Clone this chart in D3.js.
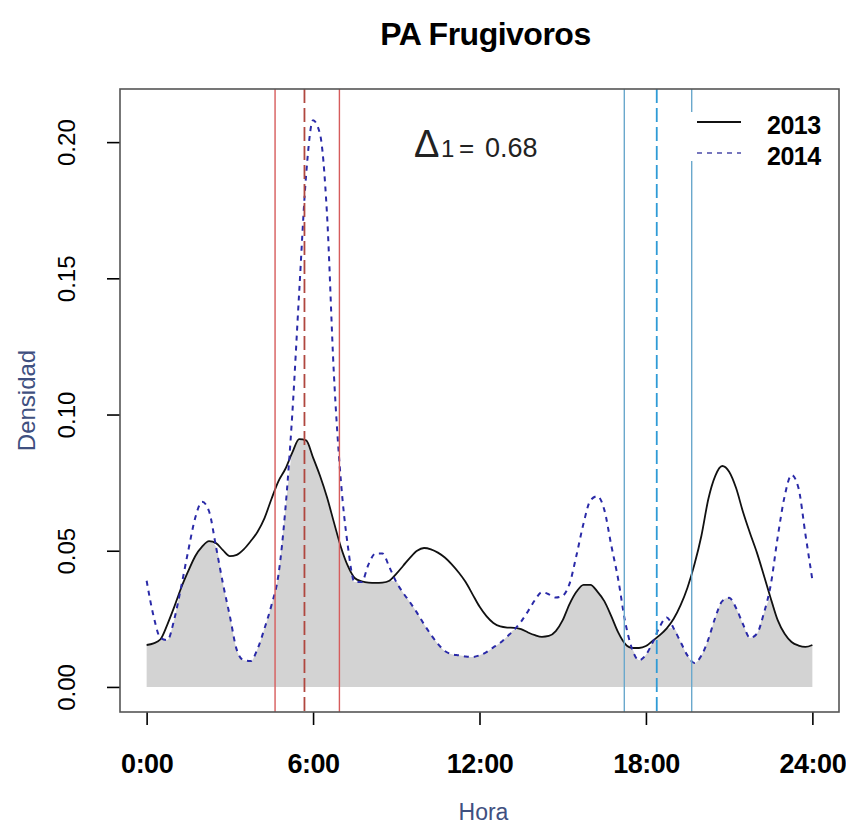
<!DOCTYPE html>
<html>
<head>
<meta charset="utf-8">
<script src="https://cdn.jsdelivr.net/npm/d3@7"></script>
<style>
  html, body { margin: 0; padding: 0; background: #fff; }
  svg { display: block; font-family: "Liberation Sans", Arial, sans-serif; }
</style>
</head>
<body>
<svg id="chart" width="846" height="828"></svg>
<script>
// Kernel density of activity by hour, sampled every 15 minutes (0:00 .. 24:00)
const hours = d3.range(0, 97).map(i => i * 0.25);

const dens2013 = [
  0.0154, 0.0160, 0.0175, 0.0230, 0.0295, 0.0365, 0.0425, 0.0480,
  0.0515, 0.0535, 0.0528, 0.0502, 0.0480, 0.0485, 0.0505, 0.0535,
  0.0570, 0.0620, 0.0690, 0.0755, 0.0800, 0.0860, 0.0910, 0.0905,
  0.0842, 0.0775, 0.0697, 0.0605, 0.0515, 0.0445, 0.0400, 0.0388,
  0.0383, 0.0382, 0.0383, 0.0390, 0.0415, 0.0445, 0.0475, 0.0500,
  0.0510, 0.0505, 0.0493, 0.0475, 0.0450, 0.0420, 0.0385, 0.0340,
  0.0295, 0.0260, 0.0235, 0.0222, 0.0218, 0.0217, 0.0212, 0.0200,
  0.0190, 0.0184, 0.0187, 0.0205, 0.0245, 0.0305, 0.0350, 0.0375,
  0.0375, 0.0350, 0.0315, 0.0260, 0.0200, 0.0158, 0.0143, 0.0143,
  0.0150, 0.0170, 0.0190, 0.0215, 0.0250, 0.0300, 0.0365, 0.0450,
  0.0555, 0.0690, 0.0775, 0.0811, 0.0790, 0.0730, 0.0642, 0.0565,
  0.0493, 0.0410, 0.0325, 0.0245, 0.0195, 0.0165, 0.0152, 0.0147,
  0.0154
];

const dens2014 = [
  0.0390, 0.0260, 0.0180, 0.0172, 0.0250, 0.0370, 0.0500, 0.0620,
  0.0680, 0.0645, 0.0515, 0.0380, 0.0260, 0.0136, 0.0098, 0.0095,
  0.0140, 0.0215, 0.0300, 0.0410, 0.0650, 0.1000, 0.1450, 0.1880,
  0.2080, 0.2030, 0.1740, 0.1150, 0.0760, 0.0520, 0.0385, 0.0385,
  0.0450, 0.0490, 0.0490, 0.0440, 0.0385, 0.0345, 0.0310, 0.0272,
  0.0230, 0.0192, 0.0158, 0.0132, 0.0120, 0.0116, 0.0112, 0.0110,
  0.0116, 0.0128, 0.0145, 0.0162, 0.0185, 0.0210, 0.0240, 0.0278,
  0.0319, 0.0348, 0.0340, 0.0328, 0.0335, 0.0380, 0.0485, 0.0600,
  0.0685, 0.0700, 0.0650, 0.0520, 0.0395, 0.0240, 0.0140, 0.0098,
  0.0118, 0.0165, 0.0222, 0.0255, 0.0215, 0.0165, 0.0115, 0.0088,
  0.0115, 0.0175, 0.0255, 0.0315, 0.0327, 0.0290, 0.0230, 0.0180,
  0.0195, 0.0270, 0.0375, 0.0550, 0.0700, 0.0778, 0.0730, 0.0560,
  0.0393
];

const seriesNames = ["2013", "2014"];
const overlapLabel = { symbol: "Δ", sub: "1", value: "0.68" };

// Sunrise and sunset: earliest, mean, latest (hours)
const sunrise = [4.63, 5.69, 6.95];
const sunset = [17.22, 18.39, 19.65];

const xTickValues = [0, 6, 12, 18, 24];
const xTickLabels = ["0:00", "6:00", "12:00", "18:00", "24:00"];
const yTickValues = [0, 0.05, 0.10, 0.15, 0.20];

const svg = d3.select("#chart");
const W = 846, H = 828;
const box = { left: 120, right: 839, top: 89, bottom: 712 };

svg.append("rect").attr("width", W).attr("height", H).attr("fill", "#fff");

const x = d3.scaleLinear().domain([-0.96, 24.96]).range([box.left, box.right]);
const y = d3.scaleLinear().domain([-0.0092, 0.2195]).range([box.bottom, box.top]);

const rows = hours.map((h, i) => ({ h, a: dens2013[i], b: dens2014[i] }));

// overlap region: the lower of the two densities at each hour
const overlapArea = d3.area()
  .x(d => x(d.h))
  .y0(y(0))
  .y1(d => y(Math.min(d.a, d.b)))
  .curve(d3.curveMonotoneX);

svg.append("path")
  .datum(rows)
  .attr("d", overlapArea)
  .attr("fill", "#d3d3d3");

const line = key => d3.line()
  .x(d => x(d.h))
  .y(d => y(d[key]))
  .curve(d3.curveMonotoneX);

svg.append("path")
  .datum(rows)
  .attr("d", line("a"))
  .attr("fill", "none")
  .attr("stroke", "#111")
  .attr("stroke-width", 1.8);

svg.append("path")
  .datum(rows)
  .attr("d", line("b"))
  .attr("fill", "none")
  .attr("stroke", "#2a2aa8")
  .attr("stroke-width", 2)
  .attr("stroke-dasharray", "5,5");

// reference lines for sunrise and sunset
function refLines(values, outerColor, midColor) {
  values.forEach((v, i) => {
    const mid = i === 1;
    svg.append("line")
      .attr("x1", x(v)).attr("x2", x(v))
      .attr("y1", box.top).attr("y2", box.bottom)
      .attr("stroke", mid ? midColor : outerColor)
      .attr("stroke-width", mid ? 1.8 : 1.4)
      .attr("stroke-dasharray", mid ? "14,5" : null);
  });
}
refLines(sunrise, "#d65c5c", "#b0473f");
refLines(sunset, "#6aa8cc", "#2f9bd6");

// axes
const xAxis = svg.append("g")
  .attr("transform", `translate(0,${box.bottom})`)
  .call(d3.axisBottom(x)
    .tickValues(xTickValues)
    .tickFormat((d, i) => xTickLabels[i])
    .tickSize(13)
    .tickPadding(29));
xAxis.select(".domain").remove();
xAxis.selectAll("line").attr("stroke", "#000").attr("stroke-width", 1.6);
xAxis.selectAll("text")
  .attr("fill", "#000")
  .attr("font-size", 27)
  .attr("font-weight", "bold")
  .attr("letter-spacing", -0.5)
  .attr("font-family", "'Liberation Sans', Arial, sans-serif");

const yAxis = svg.append("g")
  .attr("transform", `translate(${box.left},0)`)
  .call(d3.axisLeft(y)
    .tickValues(yTickValues)
    .tickFormat(d3.format(".2f"))
    .tickSize(13));
yAxis.select(".domain").remove();
yAxis.selectAll("line").attr("stroke", "#000").attr("stroke-width", 1.6);
yAxis.selectAll("text")
  .attr("x", null).attr("dy", null)
  .attr("transform", "translate(-45,0) rotate(-90)")
  .attr("text-anchor", "middle")
  .attr("fill", "#000")
  .attr("font-size", 24)
  .attr("font-family", "'Liberation Sans', Arial, sans-serif");

// plot frame
svg.append("rect")
  .attr("x", box.left).attr("y", box.top)
  .attr("width", box.right - box.left).attr("height", box.bottom - box.top)
  .attr("fill", "none")
  .attr("stroke", "#555")
  .attr("stroke-width", 1.6);

// title and axis titles
svg.append("text")
  .attr("x", (box.left + box.right) / 2 + 6).attr("y", 45)
  .attr("text-anchor", "middle")
  .attr("font-size", 32).attr("font-weight", "bold")
  .attr("letter-spacing", -0.5)
  .attr("fill", "#000")
  .text("PA Frugivoros");

svg.append("text")
  .attr("x", (box.left + box.right) / 2 + 4).attr("y", 820)
  .attr("text-anchor", "middle")
  .attr("font-size", 23)
  .attr("fill", "#3f5080")
  .text("Hora");

svg.append("text")
  .attr("transform", `translate(35,${(box.top + box.bottom) / 2}) rotate(-90)`)
  .attr("text-anchor", "middle")
  .attr("font-size", 24)
  .attr("fill", "#3f5080")
  .text("Densidad");

// overlap coefficient
const delta = svg.append("text").attr("y", 157).attr("fill", "#222");
delta.append("tspan").attr("x", 414).attr("font-size", 38).text(overlapLabel.symbol);
delta.append("tspan").attr("x", 441).attr("font-size", 24).text(overlapLabel.sub);
delta.append("tspan").attr("x", 459).attr("font-size", 26).text("=");
delta.append("tspan").attr("x", 485).attr("font-size", 27).text(overlapLabel.value);

// legend
const legend = svg.append("g");
legend.append("rect")
  .attr("x", 686).attr("y", 112).attr("width", 150).attr("height", 49)
  .attr("fill", "#fff");
const legendStyles = [
  { stroke: "#111", width: 1.8, dash: null },
  { stroke: "#4a4aa8", width: 1.3, dash: "5,5" }
];
seriesNames.forEach((name, i) => {
  const cy = 122 + i * 31;
  legend.append("line")
    .attr("x1", 697).attr("x2", 741)
    .attr("y1", cy).attr("y2", cy)
    .attr("stroke", legendStyles[i].stroke)
    .attr("stroke-width", legendStyles[i].width)
    .attr("stroke-dasharray", legendStyles[i].dash);
  legend.append("text")
    .attr("x", 767).attr("y", cy + 12)
    .attr("font-size", 25).attr("font-weight", "bold")
    .attr("letter-spacing", -0.5)
    .attr("fill", "#000")
    .text(name);
});
</script>
</body>
</html>
